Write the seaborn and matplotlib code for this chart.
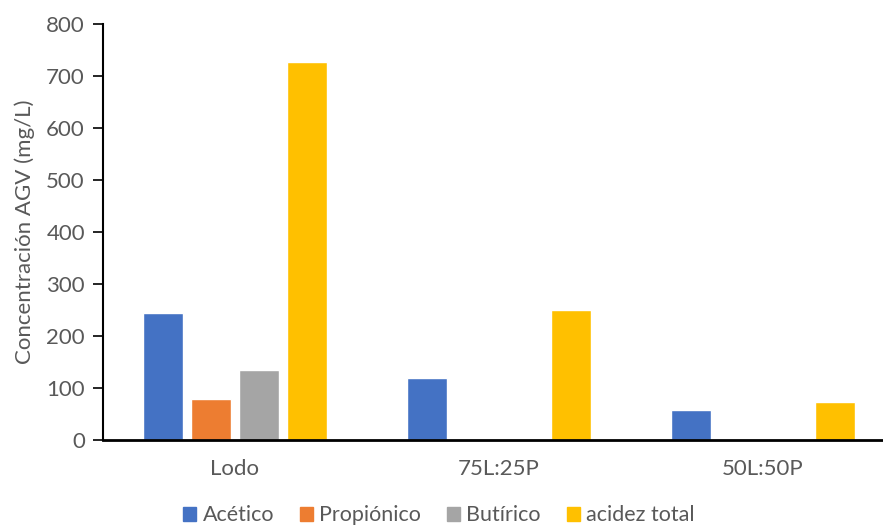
import matplotlib
matplotlib.use("Agg")
import matplotlib.pyplot as plt
import seaborn as sns
import pandas as pd

# Volatile fatty acid concentrations per substrate mix
categories = ["Lodo", "75L:25P", "50L:50P"]
series = ["Acético", "Propiónico", "Butírico", "acidez total"]
acetico = [244, 119, 57]
propionico = [79, 0, 0]
butirico = [135, 0, 0]
acidez_total = [727, 250, 74]
colors = ["#4472C4", "#ED7D31", "#A5A5A5", "#FFC000"]
yticks = [0, 100, 200, 300, 400, 500, 600, 700, 800]

values = [acetico, propionico, butirico, acidez_total]
rows = []
for name, vals in zip(series, values):
    for cat, v in zip(categories, vals):
        rows.append({"Mezcla": cat, "Ácido": name, "Concentración": v})
df = pd.DataFrame(rows)

sns.set_theme(style="white")
plt.rcParams["font.family"] = ["Lato", "DejaVu Sans"]

fs = 16
fig = plt.figure(figsize=(8.83, 5.30), dpi=100)
ax = fig.add_axes([0.1166, 0.1698, 0.897, 0.7849])

sns.barplot(data=df, x="Mezcla", y="Concentración", hue="Ácido",
            hue_order=series, order=categories, palette=colors,
            width=0.727, gap=0.17, saturation=1, ax=ax, legend=False)

ax.set_xlim(-0.5, 2.5)
ax.set_ylim(0, 800)
ax.set_yticks(yticks)
ax.set_yticklabels([str(t) for t in yticks])
ax.set_xlabel("")
ax.set_ylabel("Concentración AGV (mg/L)", fontsize=fs, color="#595959", labelpad=8)

for s in ["top", "right"]:
    ax.spines[s].set_visible(False)
ax.spines["left"].set_color("black")
ax.spines["left"].set_linewidth(1.5)
ax.spines["bottom"].set_color("black")
ax.spines["bottom"].set_linewidth(2)

ax.tick_params(axis="y", which="major", direction="out", length=7, width=1.2,
               color="black", labelsize=fs, labelcolor="#595959", left=True, pad=6)
ax.tick_params(axis="x", length=0, labelsize=fs, labelcolor="#595959", pad=14)

handles = [plt.Rectangle((0, 0), 1, 1, color=c) for c in colors]
fig.legend(handles, series, loc="lower center", bbox_to_anchor=(0.497, -0.028),
           ncol=4, frameon=False, fontsize=15.5, labelcolor="#595959",
           handlelength=0.6, handleheight=0.6, handletextpad=0.3,
           columnspacing=1.2)

fig.savefig("out.png", dpi=100)
